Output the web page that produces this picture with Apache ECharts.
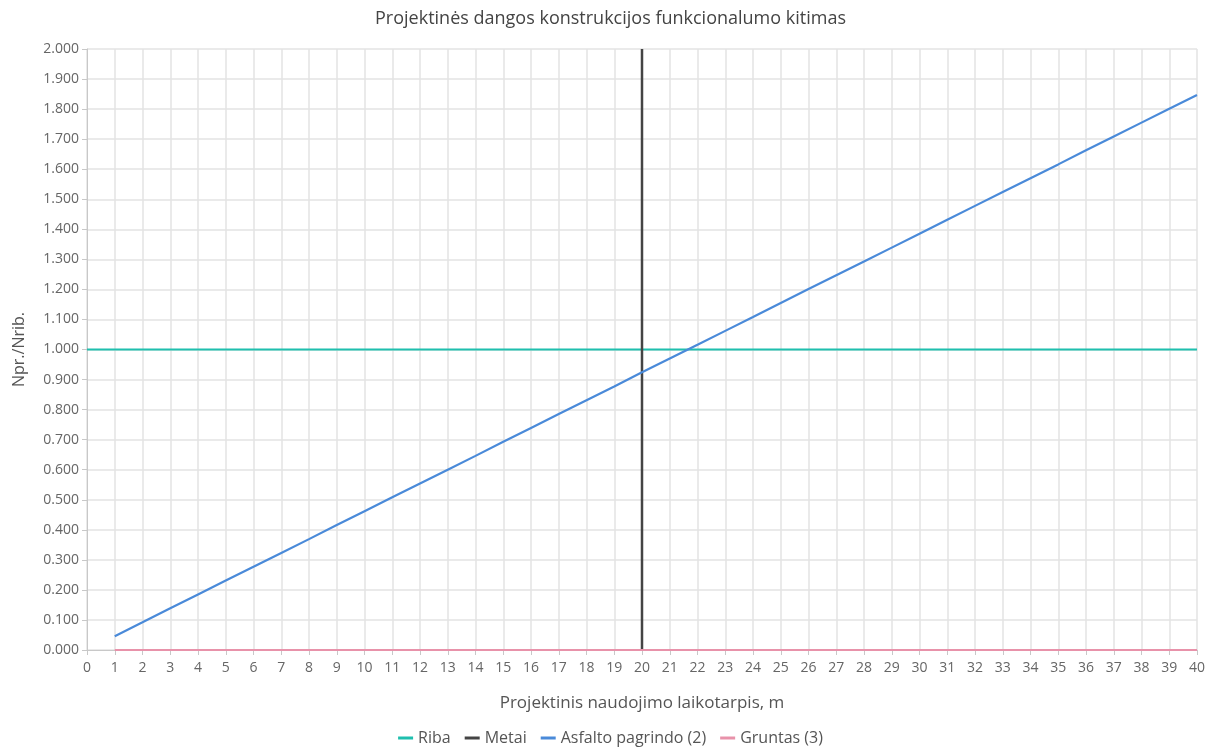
<!DOCTYPE html>
<html><head><meta charset="utf-8">
<script src="https://cdn.jsdelivr.net/npm/echarts@6/dist/echarts.min.js"></script>
<style>html,body{margin:0;padding:0;background:#fff}#c{width:1221px;height:753px}</style>
</head><body><div id="c"></div>
<script>
const titleText = 'Projektinės dangos konstrukcijos funkcionalumo kitimas';
const xName = 'Projektinis naudojimo laikotarpis, m';
const yName = 'Npr./Nrib.';
const years = [1,2,3,4,5,6,7,8,9,10,11,12,13,14,15,16,17,18,19,20,21,22,23,24,25,26,27,28,29,30,31,32,33,34,35,36,37,38,39,40];
const asfalto = [0.046,0.092,0.139,0.185,0.231,0.277,0.323,0.369,0.416,0.462,0.508,0.554,0.600,0.646,0.693,0.739,0.785,0.831,0.877,0.924,0.970,1.016,1.062,1.108,1.155,1.201,1.247,1.293,1.339,1.385,1.432,1.478,1.524,1.570,1.616,1.663,1.709,1.755,1.801,1.847];
const gruntas = [0,0,0,0,0,0,0,0,0,0,0,0,0,0,0,0,0,0,0,0,0,0,0,0,0,0,0,0,0,0,0,0,0,0,0,0,0,0,0,0];
const ribaX = [0, 40];
const ribaY = [1, 1];
const metaiX = [20, 20];
const metaiY = [0, 2];

const font = '"Open Sans", "Noto Sans", sans-serif';
const chart = echarts.init(document.getElementById('c'), null, {renderer:'canvas'});
const pairs = (xs, ys) => xs.map((x,i)=>[x, ys[i]]);
const lineS = (name, data, color, w) => ({
  name, type:'line', data, showSymbol:false, symbol:'none', animation:false,
  lineStyle:{color, width:w}, itemStyle:{color}
});
chart.setOption({
  animation:false,
  textStyle:{fontFamily:font},
  title:{text:titleText, left:'center', top:5, textStyle:{fontFamily:font, fontSize:18, fontWeight:'normal', color:'#444'}},
  grid:{left:87, right:24, top:49, bottom:103, containLabel:false},
  legend:{bottom:2, left:'center', itemWidth:15, itemHeight:3, itemGap:14, icon:'rect',
    textStyle:{fontFamily:font, fontSize:16, color:'#555'},
    data:['Riba','Metai','Asfalto pagrindo (2)','Gruntas (3)']},
  xAxis:{type:'value', min:0, max:40, interval:1, name:xName, nameLocation:'middle', nameGap:45,
    nameTextStyle:{fontFamily:font, fontSize:17, color:'#555'},
    axisLine:{lineStyle:{color:'#c8c8c8'}}, axisTick:{show:true, lineStyle:{color:'#c8c8c8'}, length:5},
    axisLabel:{fontFamily:font, fontSize:14, color:'#666', margin:11},
    splitLine:{show:true, lineStyle:{color:'#e3e3e3', width:1.5}}},
  yAxis:{type:'value', min:0, max:2, interval:0.1, name:yName, nameLocation:'middle', nameGap:60,
    nameTextStyle:{fontFamily:font, fontSize:16, color:'#555'},
    axisLine:{show:true, lineStyle:{color:'#c8c8c8'}}, axisTick:{show:true, lineStyle:{color:'#c8c8c8'}, length:5},
    axisLabel:{fontFamily:font, fontSize:14, color:'#666', margin:8, formatter:v=>v.toFixed(3)},
    splitLine:{show:true, lineStyle:{color:'#e3e3e3', width:1.5}}},
  series:[
    lineS('Riba', pairs(ribaX, ribaY), '#1fbfae', 2),
    lineS('Metai', pairs(metaiX, metaiY), '#444444', 2.5),
    lineS('Asfalto pagrindo (2)', pairs(years, asfalto), '#4a8ad9', 2.2),
    lineS('Gruntas (3)', pairs(years, gruntas), '#e892aa', 2)
  ]
});
</script></body></html>
